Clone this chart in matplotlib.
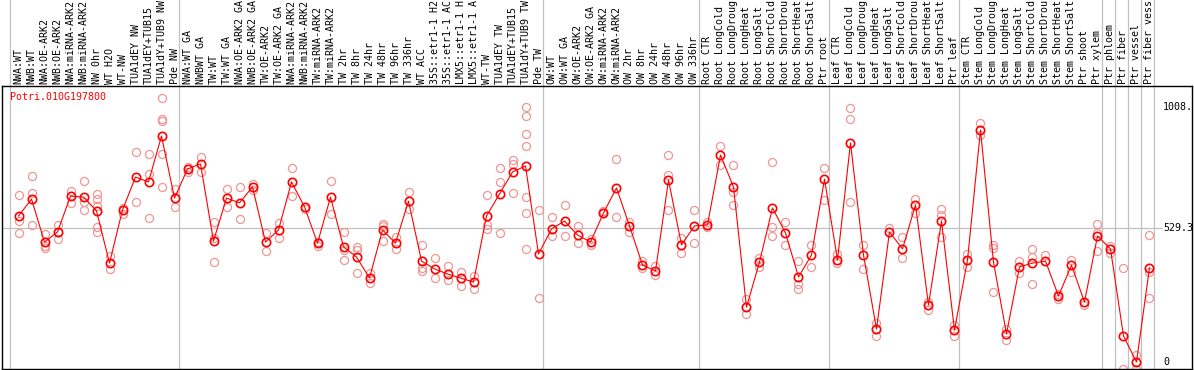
import numpy as np
import matplotlib
matplotlib.use('Agg')
import matplotlib.pyplot as plt

gene = 'Potri.010G197800'

labels = ['NWA:WT', 'NWB:WT', 'NWA:OE-ARK2', 'NWB:OE-ARK2', 'NWA:miRNA-ARK2', 'NWB:miRNA-ARK2',
          'NW 0hr', 'WT H2O', 'WT-NW', 'TUA1dEY NW', 'TUA1dEY+TUB15', 'TUA1dY+TUB9 NW', 'Pde NW',
          'NWA:WT GA', 'NWBWT GA', 'TW:WT', 'TW:WT GA', 'NWA:OE-ARK2 GA', 'NWB:OE-ARK2 GA',
          'TW:OE-ARK2', 'TW:OE-ARK2 GA', 'NWA:miRNA-ARK2', 'NWB:miRNA-ARK2', 'TW:miRNA-ARK2',
          'TW:miRNA-ARK2', 'TW 2hr', 'TW 8hr', 'TW 24hr', 'TW 48hr', 'TW 96hr', 'TW 336hr', 'WT ACC',
          '35S::etr1-1 H2', '35S::etr1-1 AC', 'LMX5::etr1-1 H', 'LMX5::etr1-1 A', 'WT-TW',
          'TUA1dEY TW', 'TUA1dEY+TUB15', 'TUA1dY+TUB9 TW', 'Pde TW',
          'OW:WT', 'OW:WT GA', 'OW:OE-ARK2', 'OW:OE-ARK2 GA', 'OW:miRNA-ARK2', 'OW:miRNA-ARK2',
          'OW 2hr', 'OW 8hr', 'OW 24hr', 'OW 48hr', 'OW 96hr', 'OW 336hr',
          'Root CTR', 'Root LongCold', 'Root LongDroug', 'Root LongHeat', 'Root LongSalt',
          'Root ShortCold', 'Root ShortDrou', 'Root ShortHeat', 'Root ShortSalt', 'Ptr root',
          'Leaf CTR', 'Leaf LongCold', 'Leaf LongDroug', 'Leaf LongHeat', 'Leaf LongSalt',
          'Leaf ShortCold', 'Leaf ShortDrou', 'Leaf ShortHeat', 'Leaf ShortSalt', 'Ptr leaf',
          'Stem CTR', 'Stem LongCold', 'Stem LongDroug', 'Stem LongHeat', 'Stem LongSalt',
          'Stem ShortCold', 'Stem ShortDrou', 'Stem ShortHeat', 'Stem ShortSalt', 'Ptr shoot',
          'Ptr xylem', 'Ptr phloem', 'Ptr fiber', 'Ptr vessel', 'Ptr fiber vess']

# first sample index of each block (last entry = end)
group_starts = [0, 13, 41, 53, 63, 73, 84, 85, 86, 87, 88]

means = [577, 644, 474, 514, 656, 652, 597, 391, 601, 731, 712, 893, 648,
         763, 783, 478, 648, 629, 692, 474, 522, 712, 613, 470, 652, 455, 415, 332, 522, 470,
         636, 399, 368, 348, 332, 316, 577, 664, 751, 775, 427,
         526, 557, 502, 474, 589, 688, 538, 383, 360, 719, 463, 538,
         542, 818, 692, 217, 395, 609, 510, 336, 423, 723,
         403, 866, 423, 130, 514, 447, 621, 225, 557, 126,
         403, 917, 395, 111, 376, 391, 399, 261, 383, 237, 498,
         447, 103, 0, 372]

reps = [[660, 557, 510], [735, 668, 542], [506, 459, 451], [542, 486], [676, 629],
        [715, 632, 601], [664, 644, 617, 534, 514], [419, 368], [609, 585], [830, 632],
        [822, 743, 569], [1044, 961, 953, 822, 692], [684, 613],
        [771, 751], [810, 751], [553, 490, 395], [684, 613], [692, 565], [704, 680],
        [510, 439], [549, 490], [767, 656], [605], [474, 459], [715, 585], [514, 443, 403],
        [455, 443, 352], [352, 312], [546, 538, 478], [494, 447], [672, 605], [463, 372, 360],
        [411, 332], [379, 324], [356, 300], [340, 289], [660, 542, 526], [767, 712, 510],
        [799, 783, 668], [1008, 972, 901, 854, 652, 589, 447], [601, 253],
        [573, 498], [621, 498], [538, 470], [486, 463], [589, 596], [802, 573], [553, 514],
        [399, 372], [379, 344], [818, 739, 601], [490, 431], [601, 470],
        [553, 534], [854, 779], [779, 672, 621], [249, 190], [411, 376], [791, 534, 498],
        [553, 463], [399, 308, 289], [463, 376], [767, 640],
        [427, 391], [1004, 961, 632], [463, 368], [154, 103], [530], [494, 411], [644, 589],
        [237, 206], [605, 581, 494], [146, 103],
        [427, 376], [945, 897], [463, 451, 277], [130, 87], [399, 352], [447, 415, 308],
        [423], [269, 249], [403, 356], [225], [546, 510, 439],
        [459, 431], [372, -28], [28, -28], [502, 356, 253]]

yticks = [0, 529.3, 1008]
ytick_text = ['0', '529.3', '1008.']

mono = 'DejaVu Sans Mono'
fs = 7.2
grey = '#c0c0c0'

fig = plt.figure(figsize=(11.94, 3.70), dpi=100)
ax = fig.add_axes([2 / 1194, 1 / 370, 1190 / 1194, 283 / 370])
ax.set_xlim(-1.27, 90.27)
ax.set_ylim(-27.7, 1091)
ax.set_xticks([])
ax.set_yticks([])
for s in ax.spines.values():
    s.set_color('black')
    s.set_linewidth(1.0)

x = np.arange(len(means))
top_ext = 1 + 86 / 283

# block separators, running up through the label strip
for g in group_starts:
    ax.axvline(g - 0.654, ymin=0, ymax=top_ext, color=grey, lw=0.9, clip_on=False, zorder=1)
ax.hlines(yticks[1], -1.27, 88.0, color=grey, lw=0.9, zorder=1)

# replicates
for i, r in enumerate(reps):
    ax.plot([i] * len(r), r, 'o', ms=5.8, mfc='none', mec='#f09595', mew=0.9, zorder=2)

# means
ax.plot(x, means, '-', color='red', lw=0.8, zorder=3)
ax.plot(x, means, 'o', ms=6.0, mfc='none', mec='red', mew=1.2, zorder=4)

# sample labels
for i, lab in enumerate(labels):
    ax.text(i, 1 + 2 / 283, lab, transform=ax.get_xaxis_transform(), rotation=90,
            ha='center', va='bottom', fontsize=fs, family=mono, clip_on=False)

# right-hand value labels
for v, t in zip(yticks, ytick_text):
    ax.text(88.05, v, t, ha='left', va='center', fontsize=fs, family=mono, clip_on=False)

ax.text(-0.65, 1 - 11 / 283, gene, transform=ax.get_xaxis_transform(), color='red',
        ha='left', va='center', fontsize=fs, family=mono)

fig.savefig('out.png', dpi=100)
